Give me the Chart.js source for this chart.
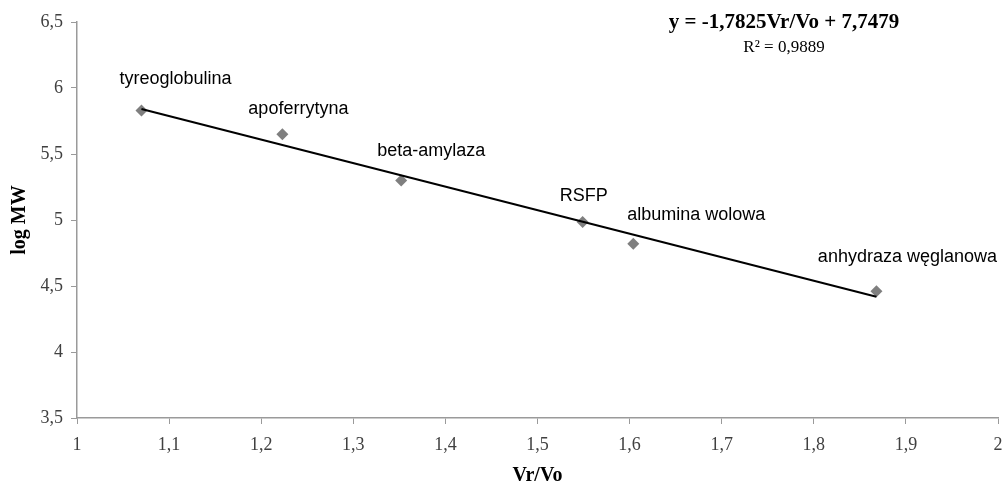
<!DOCTYPE html>
<html>
<head>
<meta charset="utf-8">
<title>log MW vs Vr/Vo</title>
<script src="https://cdn.jsdelivr.net/npm/chart.js@4/dist/chart.umd.min.js"></script>
<style>
  html, body { margin: 0; padding: 0; background: #fff; }
  #wrap { width: 1007px; height: 488px; position: relative; }
</style>
</head>
<body>
<div id="wrap"><canvas id="calib"></canvas></div>
<script>
// standard proteins: elution ratio vs log of molecular weight
const proteins = ["tyreoglobulina", "apoferrytyna", "beta-amylaza", "RSFP", "albumina wolowa", "anhydraza węglanowa"];
const vrVo = [1.07, 1.223, 1.352, 1.549, 1.604, 1.868];
const logMW = [5.83, 5.65, 5.30, 4.985, 4.82, 4.46];

const xTicks = [1, 1.1, 1.2, 1.3, 1.4, 1.5, 1.6, 1.7, 1.8, 1.9, 2];
const yTicks = [3.5, 4, 4.5, 5, 5.5, 6, 6.5];

// linear fit
const slope = -1.7825;
const intercept = 7.7479;
const rSquared = 0.9889;

// label nudges (px) relative to each point
const labelOffsets = [[34, -31], [16, -25], [30, -29], [1, -26], [63, -29], [31, -34]];

const comma = (v) => String(v).replace(".", ",");

const xMin = Math.min(...vrVo);
const xMax = Math.max(...vrVo);
const trend = [
  { x: xMin, y: slope * xMin + intercept },
  { x: xMax, y: slope * xMax + intercept },
];

const pointLabels = {
  id: "pointLabels",
  afterDatasetsDraw(chart) {
    const ctx = chart.ctx;
    const meta = chart.getDatasetMeta(1);
    ctx.save();
    ctx.font = "18px 'Liberation Sans', Arial, sans-serif";
    ctx.fillStyle = "#000";
    ctx.textAlign = "center";
    ctx.textBaseline = "middle";
    meta.data.forEach((pt, i) => {
      const [dx, dy] = labelOffsets[i];
      ctx.fillText(proteins[i], pt.x + dx, pt.y + dy);
    });
    ctx.restore();
  },
};

const equation = {
  id: "equation",
  afterDraw(chart) {
    const ctx = chart.ctx;
    ctx.save();
    ctx.fillStyle = "#000";
    ctx.textAlign = "center";
    ctx.textBaseline = "middle";
    ctx.font = "bold 21px 'Liberation Serif', 'Times New Roman', serif";
    ctx.fillText(`y = ${comma(slope)}Vr/Vo + ${comma(intercept)}`, 784, 23);
    ctx.font = "17px 'Liberation Serif', 'Times New Roman', serif";
    ctx.fillText(`R² = ${comma(rSquared)}`, 784, 48);
    ctx.restore();
  },
};

const axisColor = "#9a9a9a";
const tickFont = { family: "'Liberation Serif', 'Times New Roman', serif", size: 18 };
const titleFont = { family: "'Liberation Serif', 'Times New Roman', serif", size: 20, weight: "bold" };

new Chart(document.getElementById("calib"), {
  type: "scatter",
  data: {
    datasets: [
      {
        label: "trend",
        type: "line",
        data: trend,
        borderColor: "#000",
        borderWidth: 2,
        pointRadius: 0,
        order: 0,
      },
      {
        label: "log MW",
        data: vrVo.map((x, i) => ({ x, y: logMW[i] })),
        pointStyle: "rectRot",
        pointRadius: 6,
        backgroundColor: "#7f7f7f",
        borderColor: "#7f7f7f",
        borderWidth: 0,
        order: 1,
      },
    ],
  },
  options: {
    responsive: true,
    maintainAspectRatio: false,
    animation: false,
    events: [],
    layout: { padding: { top: 22, right: 9, left: 0, bottom: 0 } },
    plugins: { legend: { display: false }, tooltip: { enabled: false } },
    scales: {
      x: {
        type: "linear",
        min: 1,
        max: 2,
        afterBuildTicks: (scale) => { scale.ticks = xTicks.map((v) => ({ value: v })); },
        afterFit: (scale) => {
          scale.height = 70;
          scale.paddingLeft = 0;
          scale.paddingRight = 0;
        },
        ticks: { color: "#404040", font: tickFont, padding: 10, maxRotation: 0, callback: comma },
        grid: { drawOnChartArea: false, color: axisColor, tickLength: 6 },
        border: { color: axisColor, width: 1.5 },
        title: { display: true, text: "Vr/Vo", color: "#000", font: titleFont, padding: { top: 0, bottom: 0 } },
      },
      y: {
        type: "linear",
        min: 3.5,
        max: 6.5,
        afterBuildTicks: (scale) => { scale.ticks = yTicks.map((v) => ({ value: v })); },
        afterFit: (scale) => { scale.width = 77; },
        ticks: { color: "#404040", font: tickFont, padding: 8, callback: comma },
        grid: { drawOnChartArea: false, color: axisColor, tickLength: 6 },
        border: { color: axisColor, width: 1.5 },
        title: { display: true, text: "log MW", color: "#000", font: titleFont, padding: { top: 8, bottom: 0 } },
      },
    },
  },
  plugins: [pointLabels, equation],
});
</script>
</body>
</html>
